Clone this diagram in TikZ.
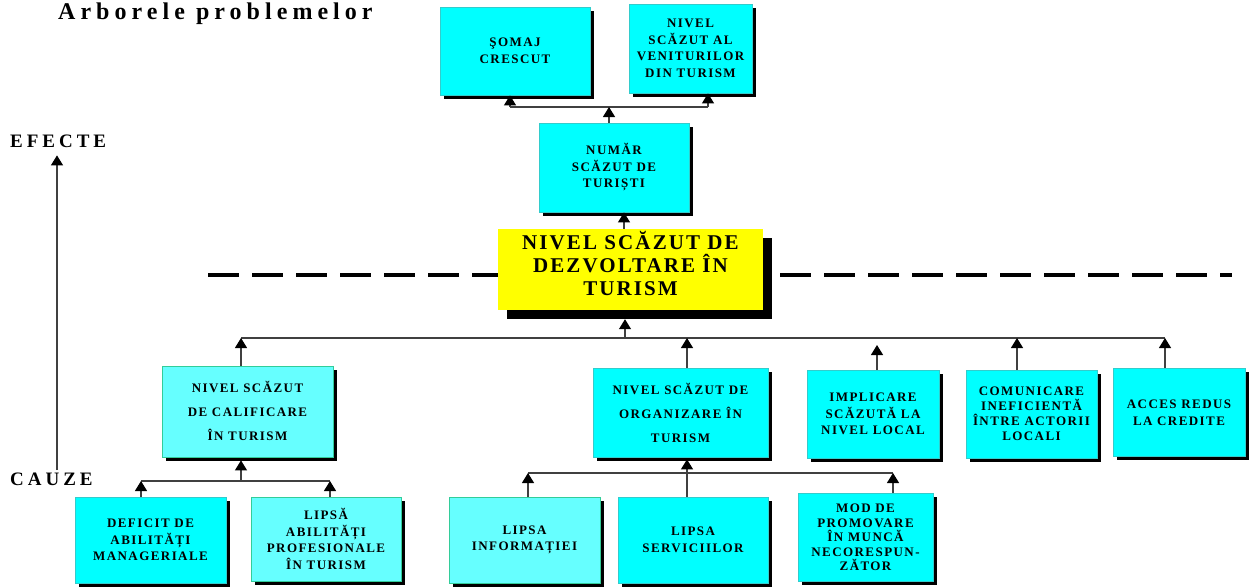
\documentclass[tikz,border=0pt]{standalone}
\usepackage{fontspec}
\setmainfont{Liberation Serif}
\newfontfamily\boxfont[LetterSpace=11]{Liberation Serif}
\newfontfamily\bigfont[LetterSpace=10]{Liberation Serif}
\newfontfamily\ttlfont[LetterSpace=21]{Liberation Serif}
\usetikzlibrary{arrows.meta,shadows}
\definecolor{cyanA}{HTML}{00FFFF}
\definecolor{cyanB}{HTML}{66FFFF}
\definecolor{edgeA}{HTML}{33CCCC}
\definecolor{edgeB}{HTML}{33CC99}
\definecolor{yel}{HTML}{FFFF00}
\begin{document}
\begin{tikzpicture}[x=1pt,y=-1pt,
  box/.style={rectangle, draw=edgeA, fill=cyanA, line width=0.8pt, align=center, inner sep=0pt,
    general shadow={fill=black, shadow xshift=4pt, shadow yshift=-4pt},
    font=\boxfont\bfseries\fontsize{13}{16.5}\selectfont},
  lbox/.style={box, draw=edgeB, fill=cyanB},
  wh/.style 2 args={minimum width=#1pt, minimum height=#2pt},
  ybox/.style={rectangle, fill=yel, draw=none, align=center, inner sep=0pt,
    general shadow={fill=black, shadow xshift=9pt, shadow yshift=-9pt},
    font=\bigfont\bfseries\fontsize{21}{23}\selectfont},
  lbl/.style={inner sep=0pt, anchor=base west},
  ln/.style={draw=black!75, line width=1.2pt},
  arr/.style={ln, -{Triangle[width=12pt,length=10pt,color=black]}}
]
\useasboundingbox (0,0) rectangle (1252,587);

% dashed separator
\draw[line width=4pt, dash pattern=on 31pt off 13pt] (208,275) -- (1232,275);

% labels
\node[lbl, font=\ttlfont\bfseries\fontsize{24}{27}\selectfont] (title) at (58,19.5) {Arborele problemelor};
\node[lbl, font=\ttlfont\bfseries\fontsize{19}{20}\selectfont] (efecte) at (10,147) {EFECTE};
\node[lbl, font=\ttlfont\bfseries\fontsize{19}{20}\selectfont] (cauze) at (10,485) {CAUZE};

% effects
\node[box, wh={150}{88}] (somaj) at (515,51) {ŞOMAJ\\CRESCUT};
\node[box, wh={123}{89}] (venit) at (690.5,48.5) {NIVEL\\SCĂZUT AL\\VENITURILOR\\DIN TURISM};
\node[box, wh={150}{89}] (numar) at (614,167.5) {NUMĂR\\SCĂZUT DE\\TURIȘTI};

% core problem
\node[ybox, minimum width=265pt, minimum height=81pt] (yellow) at (630.5,269.5) {NIVEL SCĂZUT DE\\DEZVOLTARE ÎN\\TURISM\\[-10pt]\mbox{}};

% causes level 1
\node[lbox, wh={171}{91}, font=\boxfont\bfseries\fontsize{13}{24}\selectfont] (calif) at (247.5,411.5) {\mbox{}\\[-14pt]NIVEL SCĂZUT\\DE CALIFICARE\\ÎN TURISM};
\node[box, wh={175}{89}, font=\boxfont\bfseries\fontsize{13}{24}\selectfont] (organiz) at (680.5,412.5) {NIVEL SCĂZUT DE\\ORGANIZARE ÎN\\TURISM};
\node[box, wh={132}{88}] (implic) at (873,414) {IMPLICARE\\SCĂZUTĂ LA\\NIVEL LOCAL};
\node[box, wh={131}{88}, font=\boxfont\bfseries\fontsize{13}{15}\selectfont] (comun) at (1031.5,414) {COMUNICARE\\INEFICIENTĂ\\ÎNTRE ACTORII\\LOCALI};
\node[box, wh={132}{88}, font=\boxfont\bfseries\fontsize{13}{17}\selectfont] (acces) at (1179,412) {\mbox{}\\[-7pt]ACCES REDUS\\LA CREDITE};

% causes level 2
\node[box, wh={151}{86}] (deficit) at (150.5,540) {DEFICIT DE\\ABILITĂȚI\\MANAGERIALE};
\node[lbox, wh={150}{84}] (lipsaab) at (326,539) {LIPSĂ\\ABILITĂȚI\\PROFESIONALE\\ÎN TURISM};
\node[lbox, wh={151}{86}] (info) at (524.5,540) {LIPSA\\INFORMAȚIEI};
\node[box, wh={150}{86}] (serv) at (693,540) {LIPSA\\SERVICIILOR};
\node[box, wh={135}{88}, font=\boxfont\bfseries\fontsize{13}{14.5}\selectfont] (mod) at (865.5,537) {\mbox{}\\[-4.5pt]MOD DE\\PROMOVARE\\ÎN MUNCĂ\\NECORESPUN-\\ZĂTOR};

% junction coordinates
\coordinate (t0) at (609,107);
\coordinate (t1) at (510,107);
\coordinate (t2) at (708,107);
\coordinate (y1) at (624,0);
\coordinate (m0) at (625,338);
\coordinate (m1) at (241,338);
\coordinate (m2) at (687,338);
\coordinate (m3) at (877,345);
\coordinate (m4) at (1017,338);
\coordinate (m5) at (1165,338);
\coordinate (c0) at (241,481);
\coordinate (c1) at (141,481);
\coordinate (c2) at (330,481);
\coordinate (o0) at (687,0);
\coordinate (o1) at (528,473);
\coordinate (o2) at (893,473);
\coordinate (ax) at (57,0);

% effects connectors
\draw[ln] (t1) -- (t2);
\draw[arr] (numar.north -| t0) -- (t0);
\draw[arr] (t1) -- (somaj.south -| t1);
\draw[arr] (t2) -- (venit.south -| t2);
\draw[arr] (yellow.north -| y1) -- (numar.south -| y1);

% causes level 1 connectors
\draw[ln] (m1) -- (m5);
\draw[arr, shorten >=9pt] (m0) -- (yellow.south -| m0);
\draw[arr] (calif.north -| m1) -- (m1);
\draw[arr] (organiz.north -| m2) -- (m2);
\draw[arr] (implic.north -| m3) -- (m3);
\draw[arr] (comun.north -| m4) -- (m4);
\draw[arr] (acces.north -| m5) -- (m5);

% causes level 2 connectors
\draw[ln] (c1) -- (c2);
\draw[arr, shorten >=3pt] (c0) -- (calif.south -| c0);
\draw[arr] (deficit.north -| c1) -- (c1);
\draw[arr] (lipsaab.north -| c2) -- (c2);
\draw[ln] (o1) -- (o2);
\draw[arr] (info.north -| o1) -- (o1);
\draw[arr] (mod.north -| o2) -- (o2);
\draw[arr, shorten >=2pt] (serv.north -| o0) -- (organiz.south -| o0);

% axis arrow
\draw[arr, shorten <=2pt, shorten >=8pt] (cauze.north -| ax) -- (efecte.south -| ax);
\end{tikzpicture}
\end{document}
